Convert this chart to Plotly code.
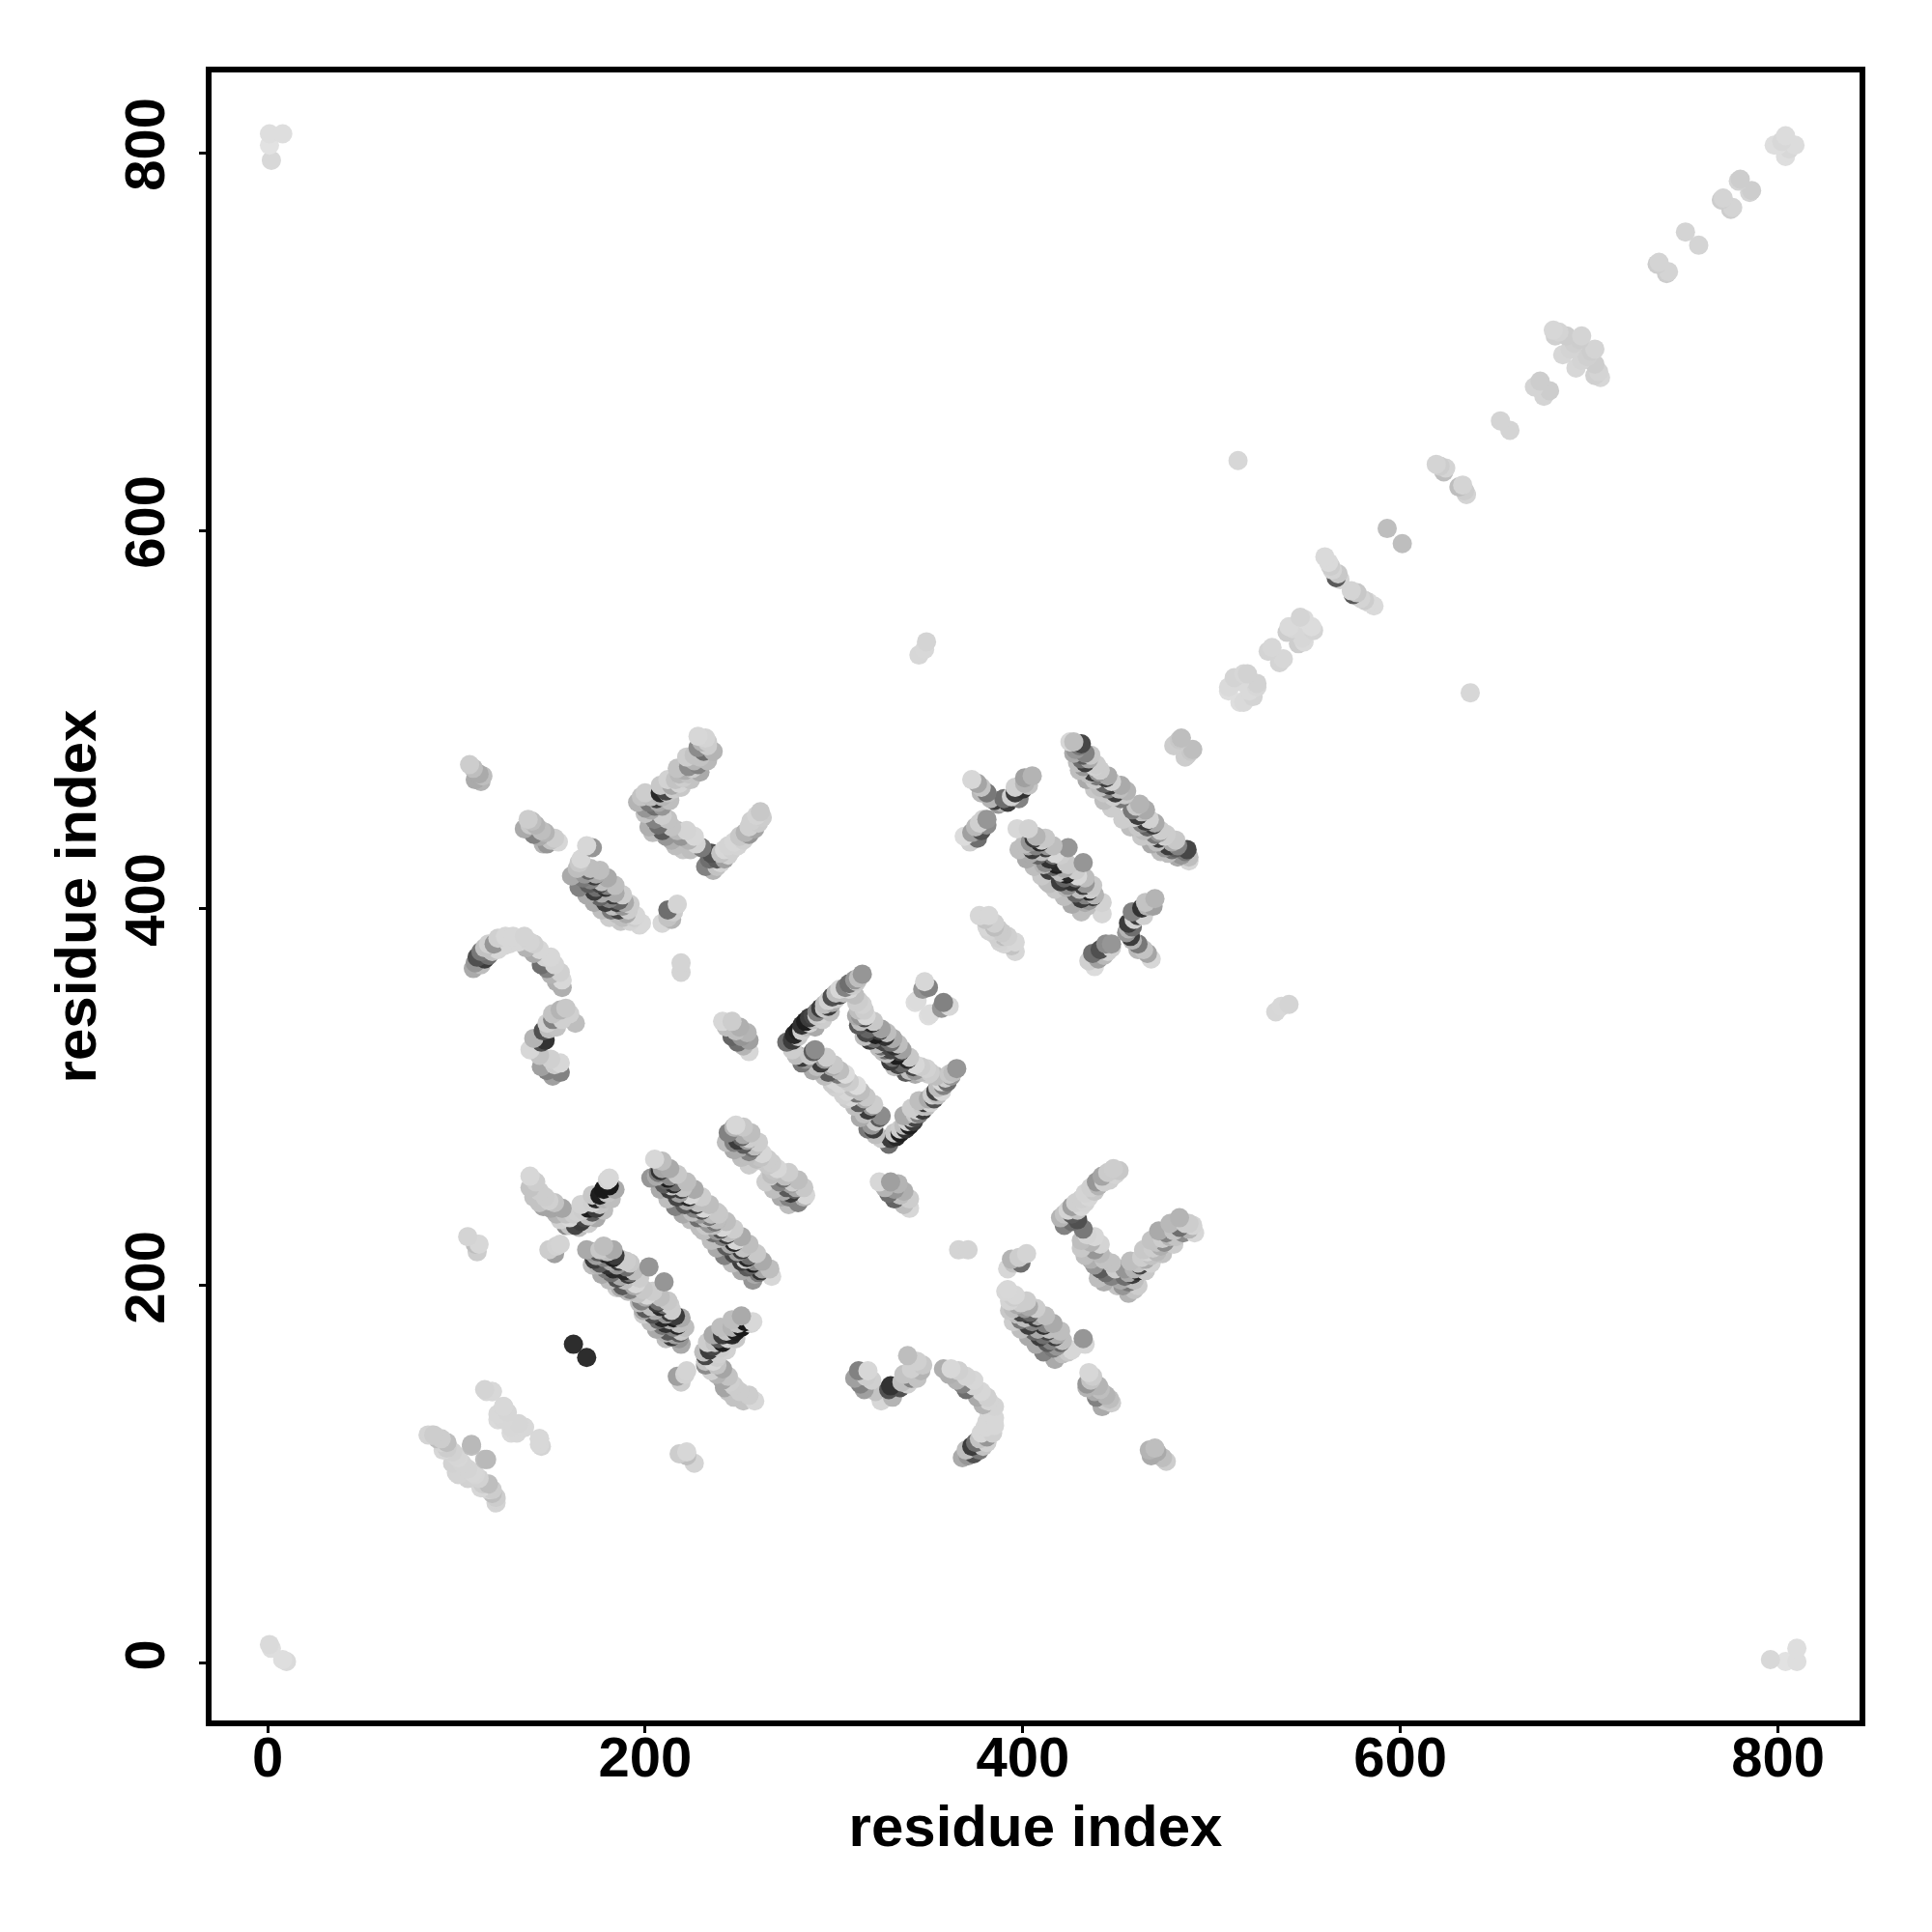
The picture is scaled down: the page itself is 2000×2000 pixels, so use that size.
import plotly.graph_objects as go

tick_values = [0, 200, 400, 600, 800]
axis_title = "residue index"

# contacts as (residue x, residue y, grey level); the map is symmetric
corners = [(1,10,218),(2,8,222),(1,810,222),(1,804,226),(2,796,216),(8,810,222)]
tail_diag = [(800,804,222),(804,809,220),(798,804,222),(802,806,216),(736,741,205),(737,742,212),
 (751,758,212),(771,776,212),(770,775,205),(780,786,205),(779,785,212),(681,706,215),(684,705,212),
 (688,703,205),(696,703,212),(686,693,215),(690,696,212),(692,699,208),(695,701,205),(682,703,208),
 (671,676,212),(674,679,205),(653,658,212),(619,635,212),(621,634,205),(623,631,190),(624,633,212),
 (593,601,190),(562,583,218),(563,581,205),(564,579,212),(566,575,90),(567,577,200),(568,574,212),
 (560,586,218),(532,538,215),(536,530,212),(541,549,218),(549,553,220),(547,554,212),(543,548,215),
 (540,546,205),(509,515,222),(515,520,218),(517,524,215),(512,522,212),(509,517,218),(519,524,210),
 (514,637,215),(345,534,215),(349,541,212),(348,537,216)]
gamma_a = [(107,476,205),(109,474,190),(112,471,170),(114,470,190),(110,468,170),(113,467,180)]
gamma_b = [(138,447,205),(140,446,190),(139,444,200),(136,442,170),(142,444,180),(145,441,190),(141,439,130),(144,438,170),(147,440,180),
 (150,436,195),(148,434,150),(152,437,205),(146,434,180),(154,435,215)]
band_c = [(172,432,150),(169,433,215),(166,426,215),(165,424,200),(164,421,190),
 (171,421,190),(170,420,100),(168,418,150),(167,416,120),(174,418,170),(173,417,60),(171,415,130),(170,413,90),
 (177,414,190),(176,413,70),(174,411,110),(173,409,60),(180,412,130),(179,411,50),(177,408,170),(176,406,100),
 (184,408,170),(183,407,60),(181,405,130),(179,403,60),(186,404,100),(185,403,60),(183,401,190),(182,399,120),
 (189,403,170),(188,401,150),(186,399,70),(185,397,190),(191,399,205),(190,397,170),(188,395,190),(187,393,200),
 (195,396,215),(194,395,205),(192,393,212),(197,391,215),(198,392,216)]
band_c_edge = [(161,417,170),(165,411,130),(169,407,170),(173,403,170),(177,399,190),(181,395,205),
 (176,420,190),(180,416,170),(184,412,190),(188,407,205),(192,402,205)]
arm_up1 = [(196,456,180),(198,459,195),(200,453,150),(202,456,120),(203,459,190),(205,454,110),(206,458,60),(207,456,170),
 (208,461,40),(209,459,180),(211,462,70),(212,461,195),(214,465,170),(215,463,205),(216,468,195),(218,466,212),
 (218,471,185),(220,469,205),(221,473,175),(223,471,195),(223,475,140),(225,474,205),(226,478,180),(228,476,130),
 (226,481,195),(229,480,195),(228,485,140),(231,483,110),(230,488,180),(233,486,205),(228,491,215),(232,490,212),(233,488,205)]
arm_up1_edge = [(203,452,170),(209,454,150),(213,457,190),(219,464,200),(224,468,195),(229,472,170),(233,478,185),(236,483,180),
 (200,461,205),(208,465,200),(212,468,210),(217,474,195),(222,480,205)]
arm_dn1 = [(200,450,195),(205,447,130),(202,443,175),(207,444,110),(209,449,205),(204,440,190),(209,441,90),(212,447,195),(211,438,150),
 (214,443,195),(214,436,175),(217,441,185),(216,433,190),(219,438,150),(222,441,212),(220,431,200),(223,436,180),(226,438,215),
 (224,431,190),(227,434,212),(230,432,120)]
arm_up2 = [(232,422,130),(234,426,110),(236,420,180),(235,429,80),(238,422,195),(238,426,90),(240,424,212),(240,429,195),(242,426,160),
 (242,431,215),(244,428,208),(244,433,212),(246,431,208),(247,435,215),(249,433,212),(250,438,200),(252,436,208),(253,440,180),
 (255,439,150),(255,443,208),(258,442,165),(256,446,208),(260,445,203),(259,449,212),(262,448,205),(261,451,200)]
small_e = [(209,392,215),(212,395,195),(214,394,180),(212,399,110),(215,398,205),(217,402,212),(219,366,212),(219,371,212)]
arc_f = [(109,368,170),(110,371,150),(111,374,80),(113,370,190),(113,377,120),(115,373,60),(115,379,195),(117,375,110),(117,381,208),
 (119,377,195),(120,381,150),(122,378,215),(122,384,208),(125,380,215),(126,385,215),(128,381,215),(130,385,215),
 (133,382,215),(136,385,212),(137,379,180),(139,382,212),(141,376,170),(141,381,208),(144,378,215),(145,370,110),(147,374,212),
 (148,368,130),(150,374,215),(150,365,180),(152,370,212),(153,361,175),(155,366,208),(156,358,175),(156,362,216)]
hook_g = [(139,325,215),(141,331,180),(145,329,80),(147,330,50),(146,335,80),(149,336,190),(148,339,208),(151,341,130),
 (153,337,195),(151,344,195),(155,346,180),(156,341,208),(158,347,200),(160,344,208),(163,339,190),(144,322,195),
 (145,316,160),(148,314,130),(150,320,208),(151,311,160),(155,313,130),(152,317,205),(155,318,215)]
box_1 = [(275,329,110),(278,330,60),(279,333,40),(281,332,200),(281,335,30),(283,335,205),(283,338,50),(285,337,190),
 (285,340,30),(287,339,210),(287,342,60),(289,341,190),(289,343,70),(290,337,170),(291,343,200),(291,345,130),(293,344,210),
 (293,347,60),(294,341,205),(295,347,200),(295,349,190),(297,348,60),(297,351,210),(298,345,190),(299,350,170),(299,353,80),(301,352,205),
 (301,355,190),(303,354,70),(303,357,215),(305,355,190),(306,358,130),(308,357,215),(308,360,110),(310,359,205),
 (311,362,150),(312,361,200),(315,365,150),(313,363,190)]
box_2 = [(278,325,205),(280,322,190),(283,318,120),(283,321,60),(285,320,150),(287,322,200),(289,324,90),(290,325,140),
 (289,314,170),(291,316,190),(293,318,60),(295,320,150),(296,321,205),(295,311,190),(297,313,90),(299,316,170),(300,317,200),
 (299,307,205),(300,309,215),(302,312,120),(303,314,190),(301,305,210),(303,307,215),(305,310,190),(306,312,220),(308,308,205)]
box_3 = [(311,354,190),(312,350,205),(313,346,190),(312,343,170),(314,343,150),(315,349,210),(316,346,205),
 (313,351,205),(313,338,90),(314,340,190),(316,342,70),(317,343,215),(316,332,190),(317,334,70),(318,336,100),(320,339,40),(321,340,200),
 (319,330,60),(321,331,110),(322,333,30),(324,335,60),(325,336,160),(323,328,190),(325,330,70),(327,332,50),(328,334,190),
 (326,324,190),(327,325,110),(329,327,70),(330,329,110),(331,331,170)]
band_i = [(241,340,215),(243,337,190),(246,340,205),(246,332,100),(248,335,190),(250,337,175),(249,329,110),(251,332,150),(254,334,180),
 (252,327,180),(255,324,215),(255,330,160)]
pair_j = [(344,351,220),(348,361,215),(350,343,222),(350,358,130),(347,357,150)]
band_k = [(248,285,215),(247,284,180),(244,281,130),(252,280,170),(251,279,100),(249,277,60),(247,276,130),
 (255,278,205),(254,277,160),(252,275,90),(250,273,170),(258,274,190),(257,273,110),(255,271,130),(254,269,190),
 (262,270,215),(261,268,195),(259,267,190),(258,266,205),(265,267,205),(264,265,200)]
band_k_edge = [(243,276,190),(247,272,170),(251,268,190),(255,264,205),(252,284,200),(256,281,190),(260,276,205)]
band_l = [(205,267,215),(206,258,170),(207,260,120),(208,261,50),(209,262,165),(210,254,90),(211,256,100),(212,257,30),(213,258,140),
 (213,251,60),(214,253,200),(215,254,40),(216,255,110),(217,247,70),(218,249,160),(219,251,60),(220,252,195),
 (221,243,90),(222,245,170),(223,247,40),(224,248,215),(225,239,190),(226,241,130),(227,243,60),(228,244,190),
 (228,236,110),(229,238,150),(230,240,80),(231,241,215),(232,232,200),(233,234,150),(234,237,60),(235,238,170),
 (236,232,190),(237,234,120),(238,235,190)]
band_l_edge = [(203,257,150),(208,251,170),(212,246,190),(216,242,130),(220,238,170),(224,235,190),(229,231,190),
 (209,266,190),(213,262,170),(217,259,200),(222,255,190),(226,251,170),(230,247,205),(234,243,190),(238,239,200)]
band_m = [(169,219,170),(172,218,150),(173,214,60),(174,216,160),(175,218,90),(176,219,200),(175,211,180),(176,212,90),(178,215,130),
 (179,217,40),(180,218,190),(179,209,120),(180,211,50),(182,213,170),(183,215,30),(184,216,60),(182,207,110),(183,209,40),(185,211,150),
 (186,213,60),(187,214,205),(185,204,80),(187,205,170),(189,208,40),(190,210,110),(192,212,200),(187,199,170),(188,200,90),(189,203,190),
 (191,206,60),(192,207,110),(191,197,190),(192,198,130),(194,200,170),(195,201,215),(196,196,195),(198,199,200)]
band_m_edge = [(178,221,190),(183,219,170),(190,213,205),(194,208,190),(197,204,205),(172,211,190),(177,206,170),(181,203,190),(185,199,205)]
extras_m = [(202,210,150)]
vee_n = [(139,258,215),(139,252,195),(142,255,205),(141,247,195),(144,250,205),(144,244,195),(147,247,205),(146,242,165),(149,245,208),
 (150,241,165),(152,244,195),(153,238,180),(156,241,165),(155,235,208),(158,238,195),(158,232,140),(160,236,215),(160,232,195),(162,238,205),
 (163,232,70),(164,239,208),(166,234,60),(167,240,205),(168,236,70),(170,237,195),(170,241,30),(172,239,90),(172,244,208),(174,241,60),(174,246,40),
 (176,243,195),(176,248,30),(178,246,180),(178,251,25),(180,249,195),(181,253,25),(180,256,212),(181,257,216)]
vee_n_edge = [(165,231,190),(170,233,205),(174,236,170),(178,240,190),(166,243,210),(172,248,200),(182,246,190),(184,251,170)]
small_o = [(149,219,205),(152,217,160),(153,221,210),(155,222,212),(106,226,212),(111,218,205),(112,222,215),(110,222,190)]
dark_p = [(162,169,45)]
band_q = [(87,121,212),(92,119,205),(95,117,190),(93,113,215),(98,112,210),(101,109,215),(98,106,210),(103,106,212)]
band_q_tail = [(108,115,190),(100,101,212)]
band_r = [(115,145,212),(119,144,216),(125,136,212),(122,132,216),(125,129,215),(129,122,218),(133,127,214),(136,125,216),(144,116,216),(144,119,216)]
band_s = [(116,108,185),(110,100,214),(114,95,205),(117,92,212),(119,90,190),(121,88,205),(121,85,212)]
# upper region around residues 370 to 490
band_t = [(425,488,215),(427,488,190),(427,482,170),(428,484,150),(430,486,120),(431,487,70),(429,477,190),(431,479,110),(432,481,90),(433,482,130),
 (432,475,150),(433,477,60),(435,479,170),(436,481,200),(435,471,190),(437,472,60),(438,475,210),(439,476,205),(438,468,200),(439,470,120),
 (440,472,150),(441,473,205),(441,464,190),(443,466,100),(444,469,60),(445,470,170),(443,461,200),(445,463,130),(446,465,60),(447,467,210),
 (448,459,205),(449,461,60),(451,463,190),(452,465,170),(452,458,120),(454,460,200),(455,462,180)]
band_t_edge = [(430,473,190),(434,468,170),(438,463,200),(443,457,190),(447,453,205)]
arm_u = [(373,468,215),(376,466,165),(378,464,195),(378,461,185),(381,461,120),(383,458,180),(385,457,60),(387,455,150),(389,456,180),
 (390,458,110),(392,456,60),(394,459,208),(396,461,60),(398,458,130),(396,464,208),(400,463,50),(401,466,180),
 (403,465,195),(401,469,160),(405,470,180)]
arm_x = [(369,438,220),(372,435,208),(373,440,160),(376,437,110),(375,443,185),(378,441,80),(377,445,208),(381,444,140),(379,447,208),(381,447,150)]
band_y = [(397,442,215),(403,442,210),(401,434,190),(403,433,170),(404,435,150),(406,437,60),(407,438,180),(404,429,170),(405,431,60),(407,433,130),
 (409,435,40),(410,436,205),(408,428,100),(410,430,190),(412,432,60),(413,433,150),(411,423,180),(412,424,140),(414,426,50),(416,428,110),(417,429,215),
 (414,420,60),(416,422,100),(418,423,30),(419,424,40),(424,432,150),(420,419,190),(422,421,170)]
band_y_edge = [(398,431,190),(402,426,170),(406,422,190),(410,417,200),(413,414,190),(412,437,200),(416,433,190),(420,428,205),(423,424,200)]
band_z = [(377,396,215),(380,394,195),(382,396,215),(381,390,215),(385,392,208),(384,387,208),(387,389,203),(388,382,212),(390,385,190)]
pair_v = [(480,486,205),(483,489,200),(484,490,190),(487,481,205)]

groups = [corners, tail_diag, gamma_a, gamma_b, band_c, band_c_edge, arm_up1, arm_up1_edge, arm_dn1, arm_up2, small_e, arc_f, hook_g,
          box_1, box_2, box_3, band_i, pair_j, band_k, band_k_edge, band_l, band_l_edge, band_m, band_m_edge, extras_m, vee_n, vee_n_edge, small_o,
          dark_p, band_q, band_q_tail, band_r, band_s, band_t, band_t_edge, arm_u, arm_x, band_y, band_y_edge, band_z, pair_v]

contacts = []
for group in groups:
    for a, b, g in group:
        contacts.append((a, b, g))
        contacts.append((b, a, g))
contacts.sort(key=lambda c: (c[1], c[0]))

xs = [c[0] for c in contacts]
ys = [c[1] for c in contacts]
colors = [f"rgb({c[2]},{c[2]},{c[2]})" for c in contacts]

font_family = "Liberation Sans"
fig = go.Figure(go.Scatter(x=xs, y=ys, mode="markers",
                           marker=dict(size=20, color=colors, line=dict(width=0)),
                           hoverinfo="skip"))
axis_common = dict(
    tickmode="array", tickvals=tick_values, ticktext=[str(v) for v in tick_values],
    showgrid=False, zeroline=False, showline=True, linewidth=6, linecolor="black", mirror=True,
    ticks="outside", ticklen=7, tickwidth=3, tickcolor="black",
    tickfont=dict(family=font_family, size=58, color="black", weight=700),
)
fig.update_layout(
    width=2000, height=2000, autosize=False, showlegend=False,
    paper_bgcolor="white", plot_bgcolor="white",
    margin=dict(l=211, r=83, t=67, b=227),
    xaxis=dict(range=[-29.68, 843.2], ticklabelstandoff=-25, title=dict(text=axis_title, standoff=21,
               font=dict(family=font_family, size=60, color="black", weight=700)), **axis_common),
    yaxis=dict(range=[-30.2, 842.5], tickangle=-90, ticklabelstandoff=13, title=dict(text=axis_title, standoff=0,
               font=dict(family=font_family, size=60, color="black", weight=700)), **axis_common),
)
fig.write_html("out.html")
